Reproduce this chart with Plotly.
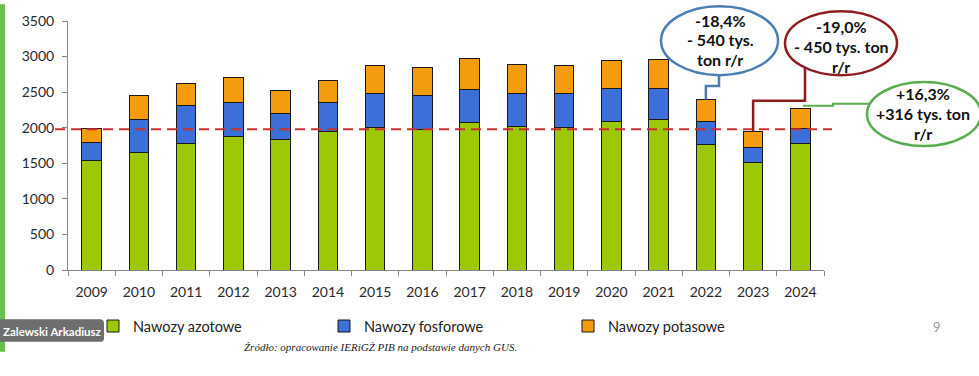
import plotly.graph_objects as go

years = [str(y) for y in range(2009, 2025)]
azotowe = [1535, 1646, 1780, 1871, 1840, 1941, 2005, 1978, 2070, 2015, 2001, 2084, 2112, 1761, 1505, 1775]
fosforowe = [253, 474, 534, 480, 364, 420, 480, 470, 461, 461, 475, 461, 442, 323, 210, 217]
potasowe = [194, 338, 314, 350, 318, 304, 396, 397, 438, 419, 405, 396, 401, 313, 231, 276]
series_names = ["Nawozy azotowe", "Nawozy fosforowe", "Nawozy potasowe"]
series_colors = ["#9dc805", "#3d6fd8", "#f59b0e"]
reference_level = 1980
callouts = [
    ["-18,4%", "- 540 tys.", "ton r/r"],
    ["-19,0%", "- 450 tys. ton", "r/r"],
    ["+16,3%", "+316 tys. ton", "r/r"],
]
source_text = "Źródło: opracowanie IERiGŻ PIB na podstawie danych GUS."
author_text = "Zalewski Arkadiusz"
page_no = "9"

W, H = 979, 376
L, R, T, B = 68, 155, 17, 106
PW, PH = W - L - R, H - T - B
YMAX = 3500


def PX(x):
    return (x - L) / PW


def PY(y):
    return (H - B - y) / PH


def cat_x(i):
    return (i + 0.5) / len(years)


totals = [a + f + p for a, f, p in zip(azotowe, fosforowe, potasowe)]

fig = go.Figure()
legends = ["legend", "legend2", "legend3"]
for vals, name, col, lg in zip([azotowe, fosforowe, potasowe], series_names, series_colors, legends):
    fig.add_trace(go.Bar(
        x=years, y=vals, name=name, legend=lg,
        marker=dict(color=col, line=dict(color="#1a1a1a", width=1)),
        hoverinfo="skip",
    ))

font_main = "Lato, 'Open Sans', sans-serif"
leg_common = dict(orientation="h", yanchor="middle", y=PY(327), xanchor="left",
                  font=dict(family=font_main, size=14.5, color="#222"),
                  bgcolor="rgba(0,0,0,0)", itemwidth=30, itemclick=False)

shapes = []
# green strip at left edge
shapes.append(dict(type="rect", xref="paper", yref="paper", x0=PX(0), x1=PX(5), y0=PY(0), y1=PY(353),
                   fillcolor="#6dbf4b", line=dict(width=0), layer="above"))
# author box with rounded corners
bx0, bx1, by0, by1, r = -6, 104, 320, 343, 4
path = (f"M{PX(bx0)},{PY(by0)} L{PX(bx1 - r)},{PY(by0)} Q{PX(bx1)},{PY(by0)} {PX(bx1)},{PY(by0 + r)} "
        f"L{PX(bx1)},{PY(by1 - r)} Q{PX(bx1)},{PY(by1)} {PX(bx1 - r)},{PY(by1)} L{PX(bx0)},{PY(by1)} Z")
shapes.append(dict(type="path", xref="paper", yref="paper", path=path, fillcolor="#6e6e6e",
                   line=dict(width=0), layer="above"))
# dashed reference line
shapes.append(dict(type="line", xref="paper", yref="y", x0=PX(55), x1=PX(832), y0=reference_level,
                   y1=reference_level, line=dict(color="#c9302c", width=2, dash="10px,6px"), layer="above"))

# connectors
blue, red, green = "#4a7eb5", "#8e1b1f", "#5aac50"
shapes.append(dict(type="path", xref="paper", yref="paper", layer="above",
                   path=f"M{PX(719)},{PY(70)} L{PX(719)},{PY(83)} L{cat_x(13)},{PY(83)} L{cat_x(13)},{totals[13] / YMAX}",
                   line=dict(color=blue, width=2.5)))
shapes.append(dict(type="path", xref="paper", yref="paper", layer="above",
                   path=f"M{PX(805)},{PY(63)} L{PX(805)},{PY(98)} L{cat_x(14)},{PY(98)} L{cat_x(14)},{totals[14] / YMAX}",
                   line=dict(color=red, width=2.5)))
gy = totals[15] / YMAX + 3 / PH
shapes.append(dict(type="path", xref="paper", yref="paper", layer="above",
                   path=f"M{PX(803)},{gy} L{PX(833)},{gy} L{PX(833)},{PY(101)} L{PX(870)},{PY(101)}",
                   line=dict(color=green, width=2)))

# ellipses
ell = [(661, 778, 2, 72, blue), (785, 897, 7, 72, red), (867, 981, 79, 144, green)]
for x0, x1, y0, y1, c in ell:
    shapes.append(dict(type="circle", xref="paper", yref="paper", x0=PX(x0), x1=PX(x1), y0=PY(y1), y1=PY(y0),
                       fillcolor="white", line=dict(color=c, width=2.5), layer="above"))

annotations = []
text_pos = [(720, [16, 36, 56]), (841, [23, 43, 63]), (923, [91, 111, 131])]
for lines, (cx, ys) in zip(callouts, text_pos):
    for line, yy in zip(lines, ys):
        annotations.append(dict(x=PX(cx), y=PY(yy), xref="paper", yref="paper", text=f"<b>{line}</b>",
                                showarrow=False, xanchor="center", yanchor="middle",
                                font=dict(family=font_main, size=16, color="#111")))

annotations.append(dict(x=PX(380), y=PY(348), xref="paper", yref="paper", text=f"<i>{source_text}</i>",
                        showarrow=False, xanchor="center", yanchor="middle",
                        font=dict(family="'Liberation Serif', serif", size=11, color="#222")))
annotations.append(dict(x=PX(1), y=PY(332), xref="paper", yref="paper", text=f"<b>{author_text}</b>",
                        showarrow=False, xanchor="left", yanchor="middle",
                        font=dict(family=font_main, size=11.5, color="white")))
annotations.append(dict(x=PX(937), y=PY(328), xref="paper", yref="paper", text=page_no,
                        showarrow=False, xanchor="center", yanchor="middle",
                        font=dict(family=font_main, size=13, color="#999")))

axis_col = "#878787"
fig.update_layout(
    width=W, height=H,
    margin=dict(l=L, r=R, t=T, b=B, pad=0),
    paper_bgcolor="white", plot_bgcolor="white",
    barmode="stack", bargap=0.59,
    showlegend=True,
    legend=dict(x=PX(93), **leg_common),
    legend2=dict(x=PX(324), **leg_common),
    legend3=dict(x=PX(568), **leg_common),
    xaxis=dict(type="category", showline=True, linecolor=axis_col, linewidth=1,
               ticks="outside", ticklen=5, tickcolor=axis_col, tickson="boundaries",
               ticklabelstandoff=9, showgrid=False, zeroline=False,
               tickfont=dict(family=font_main, size=14, color="#2a2a2a")),
    yaxis=dict(range=[0, YMAX], dtick=500, showline=True, linecolor=axis_col, linewidth=1,
               ticks="outside", ticklen=5, tickcolor=axis_col, ticklabelstandoff=5,
               showgrid=False, zeroline=False,
               tickfont=dict(family=font_main, size=14, color="#2a2a2a")),
    shapes=shapes,
    annotations=annotations,
    hovermode=False,
)

fig.write_html(
    "out.html",
    config={"displayModeBar": False},
    post_script="document.body.style.margin='0';document.body.style.padding='0';document.body.style.overflow='hidden';",
)
